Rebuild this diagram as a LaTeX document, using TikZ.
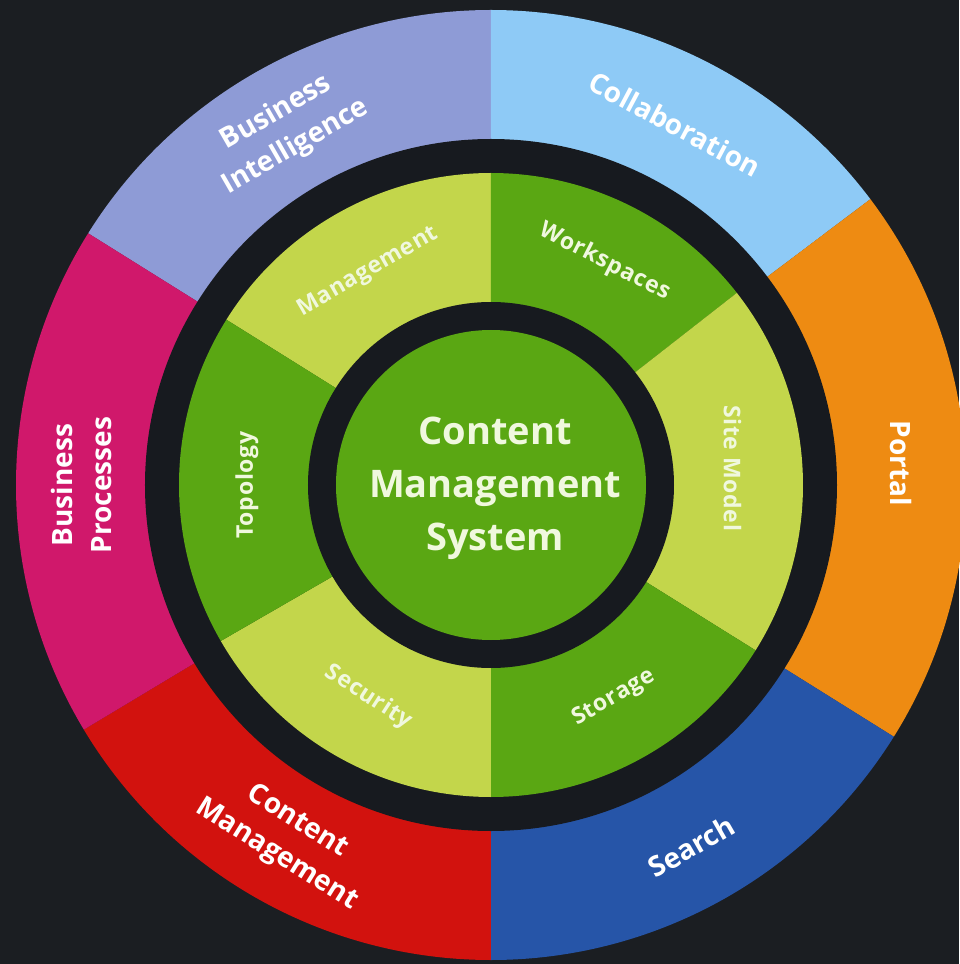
\documentclass[tikz,border=0pt]{standalone}
\usepackage{fontspec}
\setmainfont{Open Sans}
\definecolor{bgdark}{RGB}{27,30,34}
\definecolor{gapdark}{RGB}{23,26,31}
\definecolor{bicolor}{RGB}{142,155,214}
\definecolor{collabcolor}{RGB}{142,202,246}
\definecolor{portalcolor}{RGB}{238,139,18}
\definecolor{searchcolor}{RGB}{38,85,168}
\definecolor{cmcolor}{RGB}{210,18,14}
\definecolor{bpcolor}{RGB}{208,24,107}
\definecolor{lightgreen}{RGB}{195,214,75}
\definecolor{darkgreen}{RGB}{90,167,19}
\definecolor{palegreen}{RGB}{240,248,222}
\tikzset{
  ringlabel/.style={text=white, inner sep=0pt, align=center,
    font=\bfseries\fontsize{28}{39}\selectfont},
  sublabel/.style={text=palegreen, inner sep=0pt,
    font=\bfseries\fontsize{23}{27}\selectfont\addfontfeature{LetterSpace=3}},
  hublabel/.style={text=palegreen, inner sep=0pt, align=center,
    font=\bfseries\fontsize{38}{53}\selectfont}
}
\begin{document}
\begin{tikzpicture}[x=1pt,y=1pt]
\useasboundingbox (-491,-479) rectangle (468,485);
\fill[bgdark] (-491,-479) rectangle (468,485);
% outer ring
\foreach \a/\b/\col in {90/148/bicolor,37/90/collabcolor,-32/37/portalcolor,-90/-32/searchcolor,211/270/cmcolor,148/211/bpcolor}
  \fill[\col] (0,0) -- (\a:475pt) arc[start angle=\a, end angle=\b, radius=475pt] -- cycle;
\fill[gapdark] (0,0) circle[radius=346pt];
% inner ring
\foreach \a/\b/\col in {90/148/lightgreen,38/90/darkgreen,-32/38/lightgreen,-90/-32/darkgreen,210/270/lightgreen,148/210/darkgreen}
  \fill[\col] (0,0) -- (\a:312pt) arc[start angle=\a, end angle=\b, radius=312pt] -- cycle;
\fill[gapdark] (0,0) circle[radius=183pt];
\fill[darkgreen] (0,0) circle[radius=155pt];
% labels
\node[ringlabel, rotate=30] (bi) at (120:410pt) {Business\\Intelligence};
\node[ringlabel, rotate=-28] (collab) at (63:405pt) {Collaboration};
\node[ringlabel, rotate=-90] (portal) at (3:411pt) {Portal};
\node[ringlabel, rotate=30] (search) at (-61:413pt) {Search};
\node[ringlabel, rotate=-32] (cm) at (240:408pt) {Content\\Management};
\node[ringlabel, rotate=90] (bp) at (180:409pt) {Business\\Processes};
\node[sublabel, rotate=30] (mgmt) at (120:246pt) {Management};
\node[sublabel, rotate=-27] (work) at (63:250pt) {Workspaces};
\node[sublabel, rotate=-90] (site) at (4:242pt) {Site Model};
\node[sublabel, rotate=30] (store) at (-60:246pt) {Storage};
\node[sublabel, rotate=-33] (secu) at (240:245pt) {Security};
\node[sublabel, rotate=90] (topo) at (180:244pt) {Topology};
\node[hublabel] (cms) at (4,-3) {Content\\Management\\System};
\end{tikzpicture}
\end{document}
